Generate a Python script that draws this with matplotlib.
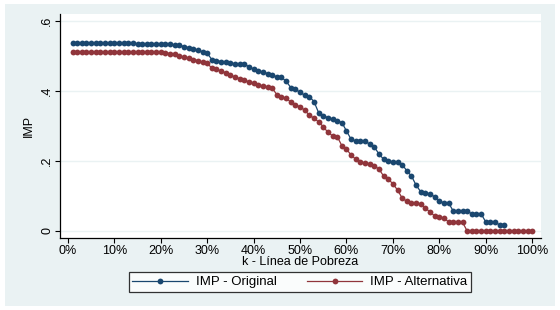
import numpy as np
import matplotlib
matplotlib.use("Agg")
import matplotlib.pyplot as plt
from matplotlib.patches import Rectangle

plt.rcParams['font.family'] = ['Liberation Sans', 'DejaVu Sans']

k = list(range(1, 101))

imp_original = [
    0.537, 0.537, 0.537, 0.537, 0.537, 0.537, 0.537, 0.537, 0.537, 0.537,
    0.537, 0.537, 0.537, 0.537, 0.535, 0.535, 0.535, 0.535, 0.535, 0.535,
    0.535, 0.533, 0.532, 0.531, 0.527, 0.524, 0.520, 0.517, 0.512, 0.508,
    0.490, 0.487, 0.484, 0.482, 0.480, 0.478, 0.477, 0.476, 0.470, 0.462,
    0.458, 0.454, 0.450, 0.446, 0.440, 0.439, 0.428, 0.410, 0.405, 0.396,
    0.388, 0.384, 0.370, 0.338, 0.329, 0.324, 0.320, 0.315, 0.310, 0.286,
    0.262, 0.257, 0.257, 0.257, 0.248, 0.240, 0.220, 0.205, 0.200, 0.198,
    0.197, 0.190, 0.172, 0.157, 0.131, 0.112, 0.110, 0.105, 0.098, 0.086,
    0.080, 0.080, 0.057, 0.057, 0.057, 0.057, 0.049, 0.049, 0.049, 0.026,
    0.026, 0.026, 0.017, 0.017, None, None, None, None, None, None,
]

imp_alternativa = [
    0.511, 0.511, 0.511, 0.511, 0.511, 0.511, 0.511, 0.511, 0.511, 0.511,
    0.511, 0.511, 0.511, 0.511, 0.511, 0.511, 0.511, 0.511, 0.511, 0.511,
    0.509, 0.507, 0.505, 0.500, 0.497, 0.494, 0.490, 0.487, 0.483, 0.480,
    0.465, 0.462, 0.457, 0.452, 0.445, 0.440, 0.435, 0.431, 0.426, 0.422,
    0.418, 0.414, 0.411, 0.408, 0.390, 0.382, 0.380, 0.368, 0.360, 0.355,
    0.345, 0.331, 0.322, 0.312, 0.298, 0.282, 0.272, 0.270, 0.244, 0.234,
    0.217, 0.205, 0.197, 0.195, 0.192, 0.186, 0.177, 0.157, 0.148, 0.135,
    0.117, 0.094, 0.085, 0.080, 0.079, 0.077, 0.066, 0.054, 0.043, 0.040,
    0.037, 0.026, 0.026, 0.026, 0.025, 0.000, 0.000, 0.000, 0.000, 0.000,
    0.000, 0.000, 0.000, 0.000, 0.000, 0.000, 0.000, 0.000, 0.000, 0.000,
]

x_ticks = [0, 10, 20, 30, 40, 50, 60, 70, 80, 90, 100]
x_tick_labels = ["0%", "10%", "20%", "30%", "40%", "50%", "60%", "70%", "80%", "90%", "100%"]
y_ticks = [0, 0.2, 0.4, 0.6]
y_tick_labels = ["0", ".2", ".4", ".6"]

navy = "#1A476F"
maroon = "#90353B"
bg = "#EAF2F3"

W, H = 560, 310
fig = plt.figure(figsize=(W / 100, H / 100), dpi=100)
fig.patch.set_facecolor("white")
rect = Rectangle((5 / W, (H - 306) / H), 550 / W, 302 / H,
                 transform=fig.transFigure, facecolor=bg,
                 edgecolor="none", zorder=-10)
fig.add_artist(rect)

ax = fig.add_axes([60 / W, (H - 238) / H, 481 / W, 224 / H])
ax.set_zorder(1)
ax.set_facecolor("white")

def to_arr(v):
    return np.array([np.nan if a is None else a for a in v], dtype=float)

ax.plot(k, to_arr(imp_original), color=navy, lw=0.9, marker="o", ms=4.2,
        mew=0, label="IMP - Original", zorder=3)
ax.plot(k, to_arr(imp_alternativa), color=maroon, lw=0.9, marker="o", ms=4.2,
        mew=0, label="IMP - Alternativa", zorder=3)

ax.set_xlim(-1.7, 101.9)
ax.set_ylim(-0.02, 0.62)
ax.set_xticks(x_ticks)
ax.set_xticklabels(x_tick_labels, fontsize=9)
ax.set_yticks(y_ticks)
ax.set_yticklabels(y_tick_labels, fontsize=9, rotation=90, va="center")
ax.grid(axis="y", color=bg, lw=1.0, zorder=1)
ax.set_axisbelow(True)
for s in ["top", "right"]:
    ax.spines[s].set_visible(False)
for s in ["left", "bottom"]:
    ax.spines[s].set_linewidth(0.9)
    ax.spines[s].set_color("black")
ax.tick_params(axis="both", direction="out", length=3.5, width=0.8, pad=1.5)

fig.text(300.5 / W, (H - 262) / H, "k - Línea de Pobreza", ha="center",
         va="center", fontsize=9)
fig.text(29 / W, (H - 126) / H, "IMP", ha="center", va="center",
         rotation=90, fontsize=9)

leg = fig.legend(loc="center", bbox_to_anchor=(300 / W, (H - 282) / H),
                 ncol=2, fontsize=9.5, frameon=True, fancybox=False,
                 handlelength=4.2, handletextpad=0.6, columnspacing=2.3,
                 borderpad=0.3, borderaxespad=0)
leg.get_frame().set_edgecolor("black")
leg.get_frame().set_linewidth(0.9)
leg.get_frame().set_facecolor("white")

fig.savefig("out.png", dpi=100)
